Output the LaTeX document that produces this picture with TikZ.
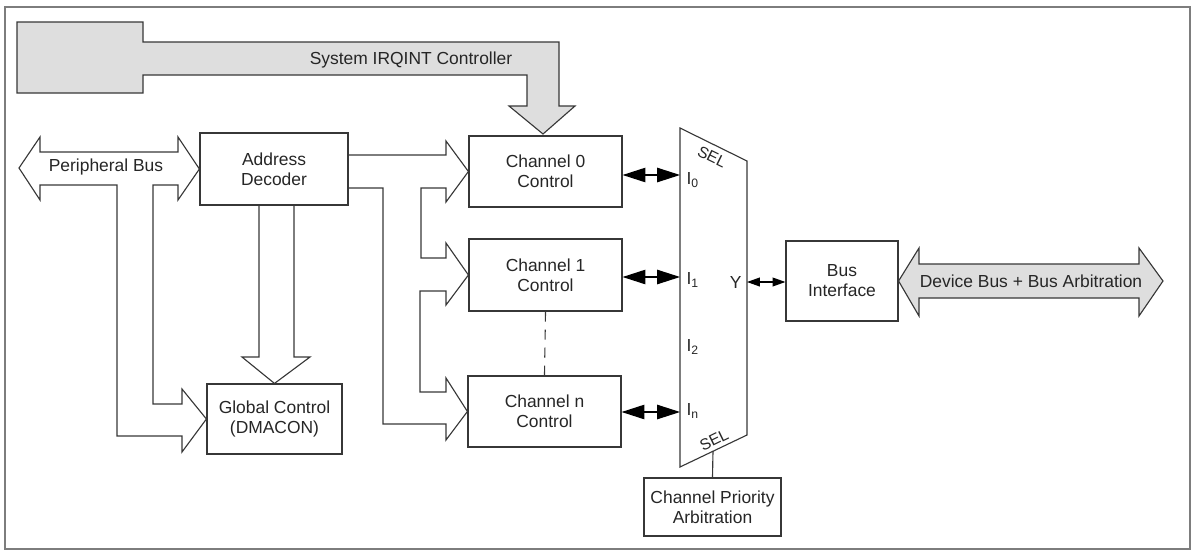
\documentclass[tikz,border=0pt]{standalone}
\usepackage{fontspec}
\setmainfont{Liberation Sans}
\usetikzlibrary{arrows.meta,calc,positioning}
\definecolor{dmaline}{RGB}{55,55,55}
\definecolor{dmafill}{RGB}{222,222,222}
\definecolor{dmaframe}{RGB}{125,125,125}

\begin{document}
\begin{tikzpicture}[x=0.025cm,y=-0.025cm,line width=0.8pt,
    font=\fontsize{12.4}{14.2}\selectfont,text=black!85,
    blk/.style={draw=dmaline,inner sep=0pt,align=center},
    hollow/.style={draw=dmaline,line join=miter},
    fatarr/.style={draw=dmaline,fill=dmafill,line join=miter},
    bigbi/.style={{Triangle[length=5.7mm,width=3.6mm]}-{Triangle[length=5.7mm,width=3.6mm]},draw=black},
    smallbi/.style={{Triangle[length=3.2mm,width=2.2mm]}-{Triangle[length=3.2mm,width=2.2mm]},draw=black},
    muxpin/.style={inner sep=0pt,anchor=west},
    sel/.style={inner sep=0pt,font=\fontsize{11.2}{12}\selectfont}]
  \useasboundingbox (0,0) rectangle (1193,554);
  \draw[dmaframe] (5,7) rectangle (1190,549);

  % blocks
  \node[blk,minimum width=3.7cm,minimum height=1.8cm] (dec) at (274,169) {Address\\Decoder};
  \node[blk,minimum width=3.375cm,minimum height=1.75cm] (glob) at (274.5,419) {Global Control\\(DMACON)};
  \node[blk,minimum width=3.825cm,minimum height=1.775cm] (ch0) at (545.5,171.5) {Channel 0\\Control};
  \node[blk,minimum width=3.825cm,minimum height=1.8cm] (ch1) at (545.5,275) {Channel 1\\Control};
  \node[blk,minimum width=3.825cm,minimum height=1.775cm] (chn) at (544.5,411.5) {Channel n\\Control};
  \node[blk,minimum width=2.8cm,minimum height=2cm] (bif) at (842,281) {Bus\\Interface};
  \node[blk,minimum width=3.425cm,minimum height=1.45cm] (prio) at (712.5,507) {Channel Priority\\Arbitration};

  % system IRQ path
  \draw[fatarr] (17,22) -- (143,22) -- (143,42) -- (559,42) -- (559,106) -- (575,106)
    -- (543,134) -- (509,106) -- (527,106) -- (527,75) -- (143,75) -- (143,93) -- (17,93) -- cycle;
  \node (irq) at (411,60) {System IRQINT Controller};

  % peripheral bus
  \draw[hollow] (dec.west) -- (178,137) -- (178,152) -- (40,152) -- (40,137) -- (19,168)
    -- (40,200) -- (40,185) -- (117,185) -- (117,436) -- (182,436) -- (182,452) -- (glob.west)
    -- (182,389) -- (182,404) -- (153,404) -- (153,185) -- (178,185) -- (178,200) -- cycle;
  \node (pbus) at (106,167) {Peripheral Bus};

  % decoder outputs
  \draw[hollow] (259,205) -- (259,357) -- (242,357) -- (glob.north) -- (310,357) -- (294,357) -- (294,205);
  \draw[hollow] (348,155) -- (446,155) -- (446,141) -- (ch0.west) -- (446,202) -- (446,188)
    -- (421,188) -- (421,258) -- (446,258) -- (446,243) -- (ch1.west) -- (446,305) -- (446,291)
    -- (420,291) -- (420,392) -- (446,392) -- (446,378) -- (chn.west) -- (446,440) -- (446,424)
    -- (383,424) -- (383,188) -- (348,188);
  \draw[dmaline,dash pattern=on 2.5mm off 2mm] (ch1.south) -- (chn.north);

  % multiplexer
  \draw[dmaline,line join=miter] (680,128) coordinate (mtl) -- (747,161) coordinate (mtr)
    -- (747,435) coordinate (mbr) -- (680,467) coordinate (mbl) -- cycle;
  \coordinate (in0) at (680,175);
  \coordinate (in1) at (680,277);
  \coordinate (inn) at (680,412);
  \coordinate (outy) at (747,282);
  \coordinate (selpin) at (713,451);
  \node[sel,rotate=-26] (selt) at (712,157) {SEL};
  \node[sel,rotate=26] (selb) at (714,440) {SEL};
  \node[muxpin] (lab0) at (686,180) {I\textsubscript{0}};
  \node[muxpin] (lab1) at (686,280) {I\textsubscript{1}};
  \node[muxpin] (lab2) at (686,347) {I\textsubscript{2}};
  \node[muxpin] (labn) at (686,411) {I\textsubscript{n}};
  \node[inner sep=0pt,anchor=east] (laby) at (742,282) {Y};

  \draw[bigbi] (ch0.east |- in0) -- (in0);
  \draw[bigbi] (ch1.east |- in1) -- (in1);
  \draw[bigbi] (chn.east |- inn) -- (inn);
  \draw[smallbi] (outy) -- (bif.west |- outy);
  \draw[dmaline] (selpin) -- (prio.north);

  % device bus
  \draw[fatarr] (bif.east) -- (919,248) -- (919,264) -- (1139,264) -- (1139,248) -- (1163,281)
    -- (1139,316) -- (1139,298) -- (919,298) -- (919,316) -- cycle;
  \node (devbus) at (1031,281) {Device Bus + Bus Arbitration};
\end{tikzpicture}
\end{document}
